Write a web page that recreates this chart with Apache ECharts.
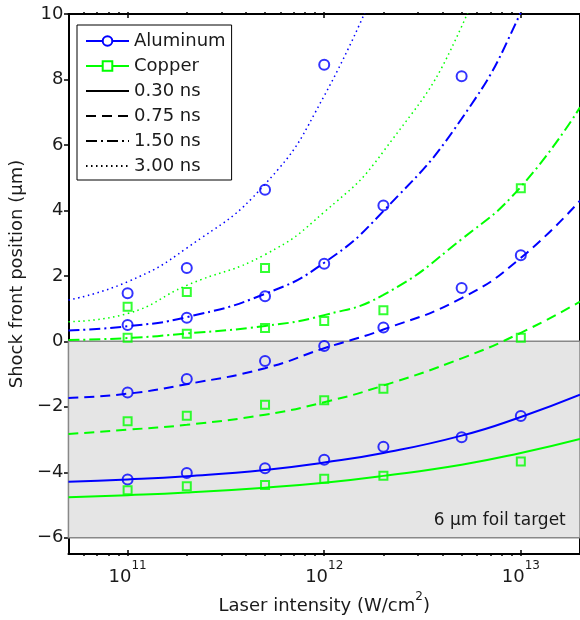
<!DOCTYPE html>
<html>
<head>
<meta charset="utf-8">
<script src="https://cdn.jsdelivr.net/npm/echarts@6/dist/echarts.min.js"></script>
<style>
  html, body { margin: 0; padding: 0; background: #fff; }
  #chart { width: 580px; height: 620px; }
</style>
</head>
<body>
<div id="chart"></div>
<script>
// laser intensities (W/cm^2) where the fitted curves were read
const fitX = [5e10, 1e11, 2e11, 5e11, 1e12, 2e12, 5e12, 1e13, 2e13]
// fitted shock front position (um) per delay
const alFit030 = [-4.29, -4.22, -4.12, -3.93, -3.70, -3.41, -2.88, -2.31, -1.63]
const alFit075 = [-1.73, -1.60, -1.31, -0.82, -0.21, 0.36, 1.32, 2.55, 4.30]
const alFit150 = [0.33, 0.46, 0.74, 1.45, 2.40, 3.98, 6.8, 10.05, 14.5]
const alFit300 = [1.26, 1.82, 2.85, 4.8, 7.5, 11.4, null, null, null]
const cuFit030 = [-4.76, -4.70, -4.62, -4.47, -4.32, -4.11, -3.77, -3.41, -2.98]
const cuFit075 = [-2.83, -2.70, -2.55, -2.24, -1.86, -1.35, -0.52, 0.26, 1.21]
const cuFit150 = [0.04, 0.10, 0.24, 0.47, 0.80, 1.42, 3.12, 4.72, 7.15]
const cuFit300 = [0.6, 0.85, 1.71, 2.65, 3.95, 5.8, 9.62, 15, null]

// measured intensities and positions
const measX = [1e11, 2e11, 5e11, 1e12, 2e12, 5e12, 1e13]
const alMeas030 = [-4.22, -4.02, -3.88, -3.62, -3.22, -2.93, -2.28]
const alMeas075 = [-1.56, -1.15, -0.60, -0.14, 0.42, 1.63, 2.63]
const alMeas150 = [0.50, 0.72, 1.38, 2.37, 4.15, 8.10, null]
const alMeas300 = [1.47, 2.24, 4.63, 8.45, null, null, null]
const cuMeas030 = [-4.55, -4.43, -4.39, -4.20, -4.11, null, -3.67]
const cuMeas075 = [-2.44, -2.27, -1.94, -1.80, -1.45, null, 0.11]
const cuMeas150 = [0.11, 0.23, 0.41, 0.62, 0.95, null, 4.68]
const cuMeas300 = [1.06, 1.51, 2.24, null, null, null, null]

// axis ticks
const majorTicks = [1e11, 1e12, 1e13]
const minorTicks = [6e10, 7e10, 8e10, 9e10, 2e11, 3e11, 4e11, 5e11, 6e11, 7e11, 8e11, 9e11,
  2e12, 3e12, 4e12, 5e12, 6e12, 7e12, 8e12, 9e12]
const yTicks = [-6, -4, -2, 0, 2, 4, 6, 8, 10]
const delays = ['0.30 ns', '0.75 ns', '1.50 ns', '3.00 ns']

const FONT = 'DejaVu Sans'
const TXT = '#1a1a1a'
const BLUE = '#0000ff'
const GREEN = '#00ff00'
const STYLES = ['solid', [10, 6], [11, 4, 2, 4], [1.5, 3.5]]
const GRID_W = 516
const GRID_H = 542

const chart = echarts.init(document.getElementById('chart'))

function pairs(xs, ys) {
  return xs.map((x, i) => [x, ys[i]]).filter(d => d[1] != null)
}

const LINE = { color: '#000', width: 2 }
const TICK = { color: '#000', width: 1.5 }

// border line of the box
function xBorder(position, labels) {
  return {
    type: 'log', position, min: 5e10, max: 2e13,
    axisLine: { show: true, onZero: false, lineStyle: LINE },
    axisTick: { show: false },
    splitLine: { show: false },
    axisLabel: labels ? {
      show: true, margin: 6, customValues: majorTicks,
      formatter: v => '{b|10}{s|' + Math.round(Math.log10(v)) + '}',
      rich: {
        b: { fontFamily: FONT, fontSize: 18, color: TXT, lineHeight: 26, verticalAlign: 'bottom' },
        s: { fontFamily: FONT, fontSize: 12, color: TXT, lineHeight: 14, verticalAlign: 'top' }
      }
    } : { show: false },
    name: labels ? '{a|Laser intensity (W/cm}{s|2}{a|)}' : '',
    nameLocation: 'middle', nameGap: 36,
    nameTextStyle: {
      rich: {
        a: { fontFamily: FONT, fontSize: 18, color: TXT, lineHeight: 24, verticalAlign: 'bottom' },
        s: { fontFamily: FONT, fontSize: 12, color: TXT, lineHeight: 14, verticalAlign: 'top' }
      }
    }
  }
}

// inward ticks: an axis on the opposite side shifted onto this border, ticks pointing out of it
function xTicks(position, ticks, len) {
  return {
    type: 'log', position, offset: -GRID_H, min: 5e10, max: 2e13,
    axisLine: { show: false, onZero: false },
    axisTick: { show: true, length: len, customValues: ticks, lineStyle: TICK },
    axisLabel: { show: false },
    splitLine: { show: false }
  }
}

function yBorder(position, labels) {
  return {
    type: 'value', position, min: -6.5, max: 10,
    axisLine: { show: true, onZero: false, lineStyle: LINE },
    axisTick: { show: false },
    splitLine: { show: false },
    axisLabel: labels ? {
      show: true, margin: 5, customValues: yTicks,
      fontFamily: FONT, fontSize: 18, color: TXT,
      formatter: v => String(v).replace('-', '\u2212')
    } : { show: false },
    name: labels ? 'Shock front position (\u03bcm)' : '',
    nameLocation: 'middle', nameGap: 38,
    nameTextStyle: { fontFamily: FONT, fontSize: 18, color: TXT, padding: [0, 0, 0, 20] }
  }
}

function yTicksAxis(position) {
  return {
    type: 'value', position, offset: -GRID_W, min: -6.5, max: 10,
    axisLine: { show: false, onZero: false },
    axisTick: { show: true, length: 5, customValues: yTicks, lineStyle: TICK },
    axisLabel: { show: false },
    splitLine: { show: false }
  }
}

const fits = [
  [alFit030, cuFit030], [alFit075, cuFit075], [alFit150, cuFit150], [alFit300, cuFit300]
]
const meas = [
  [alMeas030, cuMeas030], [alMeas075, cuMeas075], [alMeas150, cuMeas150], [alMeas300, cuMeas300]
]

const series = []

// shaded foil region
series.push({
  type: 'line', name: 'foil', data: [], silent: true,
  markArea: {
    silent: true,
    itemStyle: { color: '#e5e5e5', borderColor: '#888', borderWidth: 1.5 },
    label: {
      show: true, position: 'insideBottomRight', formatter: '6 \u03bcm foil target',
      fontFamily: FONT, fontSize: 17, color: TXT, offset: [-10, -4]
    },
    data: [[{ yAxis: 0 }, { yAxis: -6 }]]
  }
})

fits.forEach((pair, k) => {
  pair.forEach((vals, m) => {
    series.push({
      type: 'line', name: (m ? 'cu ' : 'al ') + delays[k],
      data: pairs(fitX, vals), smooth: 0.5, symbol: 'none', silent: true,
      lineStyle: { color: m ? GREEN : BLUE, width: k === 3 ? 1.5 : 2, type: STYLES[k] },
      clip: true, z: 3
    })
  })
})

meas.forEach((pair, k) => {
  pair.forEach((vals, m) => {
    series.push({
      type: 'scatter', name: (m ? 'cu pts ' : 'al pts ') + delays[k],
      data: pairs(measX, vals), silent: true,
      symbol: m ? 'rect' : 'circle', symbolSize: m ? 8 : 10,
      itemStyle: { color: 'transparent', borderColor: m ? GREEN : BLUE, borderWidth: 2 },
      z: 4
    })
  })
})

// legend-only entries
series.push(
  { type: 'line', name: 'Aluminum', data: [], symbol: 'emptyCircle', symbolSize: 9,
    itemStyle: { color: BLUE, borderWidth: 2 }, lineStyle: { color: BLUE, width: 2 } },
  { type: 'line', name: 'Copper', data: [], symbol: 'emptyRect', symbolSize: 8,
    itemStyle: { color: GREEN, borderWidth: 2 }, lineStyle: { color: GREEN, width: 2 } }
)
delays.forEach((d, k) => {
  series.push({ type: 'line', name: d, data: [], symbol: 'none',
    itemStyle: { color: 'rgba(0,0,0,0)', borderColor: 'rgba(0,0,0,0)' },
    lineStyle: { color: '#000', width: k === 3 ? 1.5 : 2, type: STYLES[k] } })
})

chart.setOption({
  animation: false,
  grid: { left: 66, top: 14, width: GRID_W, height: GRID_H, containLabel: false },
  xAxis: [
    xBorder('bottom', true),
    xBorder('top', false),
    xTicks('top', majorTicks, 6),     // sits on the bottom border
    xTicks('top', minorTicks, 3),
    xTicks('bottom', majorTicks, 6),  // sits on the top border
    xTicks('bottom', minorTicks, 3)
  ],
  yAxis: [
    yBorder('left', true),
    yBorder('right', false),
    yTicksAxis('right'),              // sits on the left border
    yTicksAxis('left')                // sits on the right border
  ],
  legend: {
    left: 77, top: 25, orient: 'vertical',
    data: ['Aluminum', 'Copper'].concat(delays),
    backgroundColor: '#fff', borderColor: '#000', borderWidth: 1,
    padding: [7, 6, 5, 8], itemGap: 7, itemWidth: 43, itemHeight: 12,
    selectedMode: false,
    textStyle: { fontFamily: FONT, fontSize: 18, color: TXT }
  },
  series
})
</script>
</body>
</html>
